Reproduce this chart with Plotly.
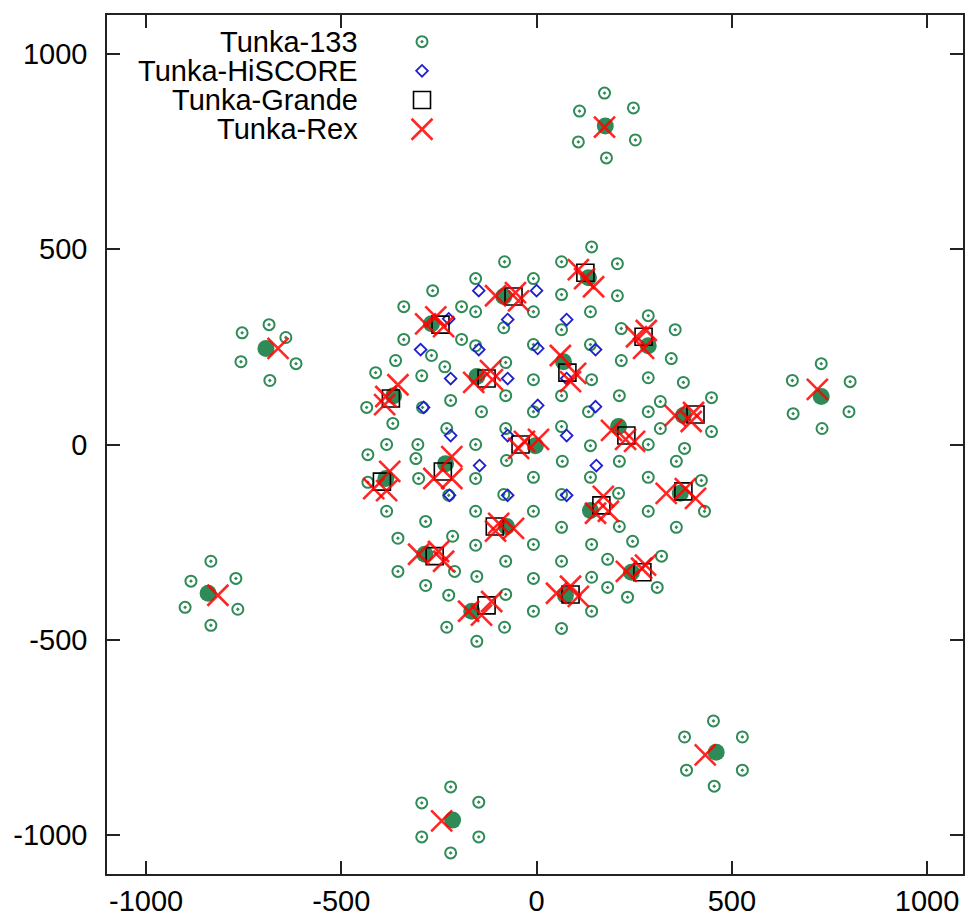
import plotly.graph_objects as go

# ---------------- data (metres) ----------------
# Tunka-133 optical detectors (ring detectors of every cluster)
t133_x = [-82, -156, -8, -266, -340, -192, -156, -84, -8, -340, -192, -269, -235, -361, -412, -294,
          -156, -79, -8, -220, -79, -435, -368, -141, -230, -79, -8, -8,
          141, 64, 207, 64, 207, 138, 64, 286, 217, 355, 138, 217, 345, 141, 286, 376, 64, 212,
          317, 286, 448, 133, 64, 317, 448,
          -384, -432, -304, -309, -156, -432, -302, -156, -77, -8, -84, -384, -156, -8, -284,
          -355, -215, -156, -79, -8, -355, -210, -284, -153, -225, -79, -8, -8, -230, -82, -153,
          138, 286, 379, 66, 212, 358, 138, 286, 422, 210, 64, 286, 430, 64, 212, 358, 246, 141,
          320, 182, 64, 141, 182, 309, 233, 141, 64, -292, -225,
          # outer clusters
          174, 110, 248, 107, 253, 179,
          -685, -754, -642, -757, -616, -683,
          729, 655, 803, 657, 800, 731,
          -834, -885, -770, -900, -765, -834,
          -220, -294, -148, -294, -148, -220,
          453, 379, 527, 384, 527, 455]
t133_y = [468, 425, 425, 394, 353, 353, 340, 299, 340, 269, 269, 228, 199, 215, 184, 176,
          253, 210, 256, 113, 125, 95, 54, 84, 41, 41, 166, 84,
          506, 468, 463, 384, 381, 340, 294, 330, 297, 294, 256, 215, 220, 166, 171, 159, 125, 125,
          110, 84, 120, 84, 46, 41, 33,
          0, -26, 0, -36, 0, -97, -87, -87, -41, -84, -128, -171, -171, -171, -197,
          -240, -235, -258, -299, -256, -325, -325, -361, -338, -386, -384, -343, -427, -468, -468, -504,
          -3, 0, -10, -43, -43, -43, -84, -84, -92, -125, -128, -171, -171, -212, -210, -212, -248, -256,
          -286, -294, -299, -340, -366, -366, -391, -427, -471, 95, -130,
          900, 854, 862, 775, 780, 734,
          307, 286, 274, 212, 207, 164,
          207, 164, 161, 79, 84, 41,
          -299, -350, -343, -417, -422, -463,
          -877, -918, -916, -1005, -1005, -1046,
          -708, -749, -749, -834, -834, -875]

# Tunka-133 cluster centres
centre_x = [-84, -269, -153, -366, 133, 286, 69, 376, 210, -3, -386, -233, -77, -286, -166, 138, 368, 243, 74,
            176, -693, 729, -841, -215, 460]
centre_y = [379, 309, 174, 125, 427, 253, 212, 74, 46, -3, -87, -49, -210, -281, -427, -169, -125, -327, -386,
            816, 246, 123, -381, -962, -788]

# Tunka-HiSCORE stations
hiscore_x = [-148, 0, -225, -74, 77, -297, -148, 3, 151, -220, -74, 77, -289, 3, 151,
             -220, -74, 77, -146, 153, -223, -74, 77]
hiscore_y = [394, 394, 322, 320, 320, 243, 243, 246, 243, 169, 169, 169, 95, 100, 97,
             23, 23, 23, -54, -54, -130, -130, -130]

# Tunka-Grande stations
grande_x = [-59, -246, -128, -373, 125, 274, 79, 407, 230, -41, -396, -240, -107, -261, -128, 166, 376, 271, 87]
grande_y = [379, 307, 169, 118, 440, 276, 184, 77, 23, 0, -95, -69, -210, -286, -412, -156, -120, -327, -384]

# Tunka-Rex antennas
rex_x = [-105, -54, -46, -284, -258, -238, -161, -118, -113, -355, -386, -389,
         107, 146, 123, 256, 281, 274, 61, 100, 87, 355, 402, 396,
         192, 228, 251, -46, -31, 5, -376, -417, -384, -217, -263, -217,
         -105, -59, -97, -302, -251, -238, -174, -141, -115, 171, 151, 184,
         332, 381, 407, 230, 269, 279, 51, 87, 107,
         174, -662, 719, -816, -243, 432]
rex_y = [381, 389, 368, 309, 327, 302, 159, 189, 166, 153, 123, 102,
         448, 404, 425, 276, 292, 246, 228, 182, 161, 74, 82, 59,
         36, 13, 8, -10, 8, 13, -69, -113, -118, -31, -87, -87,
         -222, -215, -202, -281, -274, -299, -427, -437, -402, -133, -176, -171,
         -125, -113, -138, -325, -317, -309, -381, -363, -389,
         813, 246, 141, -386, -964, -795]

legend_labels = ["Tunka-133", "Tunka-HiSCORE", "Tunka-Grande", "Tunka-Rex"]
ticks = [-1000, -500, 0, 500, 1000]

# ---------------- styles ----------------
GREEN = "#2e8b57"
BLUE = "#1f1fd0"
RED = "rgba(255,0,0,0.85)"
FONT = "Liberation Sans, Arial, Helvetica, sans-serif"

styles = [
    dict(symbol="circle-open-dot", size=11, color=GREEN, line=dict(color=GREEN, width=2)),
    dict(symbol="diamond-open", size=9, color=BLUE, line=dict(color=BLUE, width=1.8)),
    dict(symbol="square-open", size=17, color="black", line=dict(color="black", width=1.6)),
    dict(symbol="x-thin-open", size=21, color=RED, line=dict(color=RED, width=2.6)),
]

fig = go.Figure()
fig.add_trace(go.Scatter(x=t133_x, y=t133_y, mode="markers", marker=styles[0], showlegend=False))
fig.add_trace(go.Scatter(x=centre_x, y=centre_y, mode="markers",
                         marker=dict(symbol="circle", size=17, color=GREEN), showlegend=False))
fig.add_trace(go.Scatter(x=hiscore_x, y=hiscore_y, mode="markers", marker=styles[1], showlegend=False))
fig.add_trace(go.Scatter(x=grande_x, y=grande_y, mode="markers", marker=styles[2], showlegend=False))
fig.add_trace(go.Scatter(x=rex_x, y=rex_y, mode="markers", marker=styles[3], showlegend=False))

# hand-made key (text right-aligned, symbol to the right), in paper fractions
key_text_x = 0.295
key_sym_x = 0.368
key_rows = [0.969, 0.935, 0.901, 0.867]
for lab, yy, st in zip(legend_labels, key_rows, styles):
    fig.add_annotation(x=key_text_x, y=yy, xref="paper", yref="paper", text=lab, showarrow=False,
                       xanchor="right", yanchor="middle", font=dict(family=FONT, size=29, color="black"))
    fig.add_trace(go.Scatter(x=[key_sym_x], y=[yy], xaxis="x2", yaxis="y2", mode="markers",
                             marker=st, showlegend=False, cliponaxis=False, hoverinfo="skip"))

axis_common = dict(
    showgrid=False, zeroline=False, showline=True, linecolor="#222", linewidth=1.6, mirror="ticks",
    ticks="inside", ticklen=13, tickwidth=1.5, tickcolor="#222", tickvals=ticks,
    ticktext=[str(t) for t in ticks], tickfont=dict(family=FONT, size=29, color="black"),
)
fig.update_layout(
    width=965, height=917,
    margin=dict(l=107, r=0, t=15, b=40),
    paper_bgcolor="white", plot_bgcolor="white",
    xaxis=dict(range=[-1100, 1092], **axis_common),
    yaxis=dict(range=[-1100, 1100], ticklabelstandoff=12, **axis_common),
    xaxis2=dict(overlaying="x", range=[0, 1], visible=False, anchor="y2"),
    yaxis2=dict(overlaying="y", range=[0, 1], visible=False, anchor="x2"),
    showlegend=False,
)
fig.write_html("out.html")
